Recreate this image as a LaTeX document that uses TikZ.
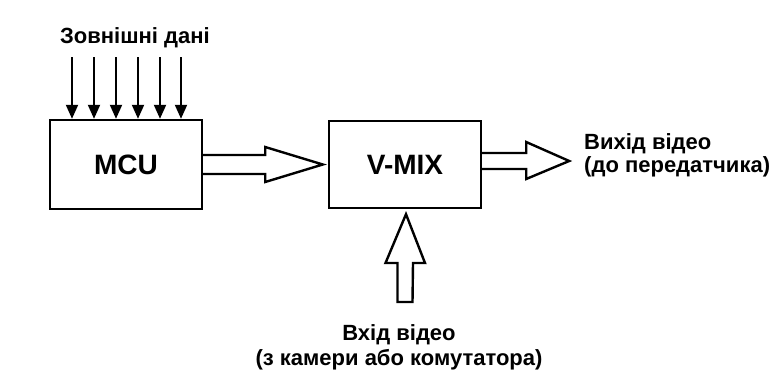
\documentclass[tikz,border=0pt]{standalone}
\usepackage{fontspec}
\setmainfont{Liberation Sans}
\usetikzlibrary{calc,arrows.meta,positioning}

\tikzset{
  block/.style={draw, line width=2.4pt, minimum width=152pt, minimum height=89pt, font=\bfseries\fontsize{28}{30}\selectfont},
  lbl/.style={font=\bfseries\fontsize{22}{23}\selectfont, inner sep=0pt},
  fat/.style={line width=2.4pt, line join=miter, fill=white},
  thin/.style={line width=2pt, -{Triangle[length=14pt,width=12pt]}}
}

\begin{document}
\begin{tikzpicture}[x=1pt,y=-1pt]
        \useasboundingbox (0,0) rectangle (781,375);

        % the two blocks
        \node[block] (mcu) at (126,164.5) {MCU};
        \node[block, minimum height=87pt] (vmix) at (405,164.5) {V-MIX};

        % external data lines
        \node[lbl] (ext) at (135,38) {Зовнішні дані};
        \foreach \x in {72,94,116,138,160,181} {
            \coordinate (in\x) at (\x,57);
            \draw[thin] (in\x) -- (in\x |- mcu.north);
        }

        % MCU -> V-MIX (hollow arrow)
        \draw[fat] ($(mcu.east)+(0,-9.5)$) -- ++(62,0) -- ++(0,-8) -- ($(vmix.west)+(-5,0)$)
            -- ($(mcu.east)+(62,17.5)$) -- ++(0,-8) -- ($(mcu.east)+(0,9.5)$);

        % video out (hollow arrow)
        \draw[fat] ($(vmix.east)+(0,-11.5)$) -- ++(44,0) -- ++(0,-11) -- ($(vmix.east)+(87,-3.5)$)
            -- ($(vmix.east)+(44,14.5)$) -- ++(0,-10) -- ($(vmix.east)+(0,4.5)$);
        \node[lbl, anchor=west, align=left] (out) at (584,155) {Вихід відео\\(до передатчика)};

        % video in (hollow arrow)
        \coordinate (vin) at (405,302);
        \draw[fat] ($(vin)+(-7.5,0)$) -- ++(0,-39) -- ++(-12,0) -- ($(vmix.south)+(1,5)$)
            -- ($(vin)+(20,-39)$) -- ++(-12,0) -- ($(vin)+(7.5,0)$) -- cycle;
        \node[lbl, align=center, font=\bfseries\fontsize{22}{25}\selectfont] (src) at (399,347) {Вхід відео\\(з камери або комутатора)};

    \end{tikzpicture}
\end{document}
